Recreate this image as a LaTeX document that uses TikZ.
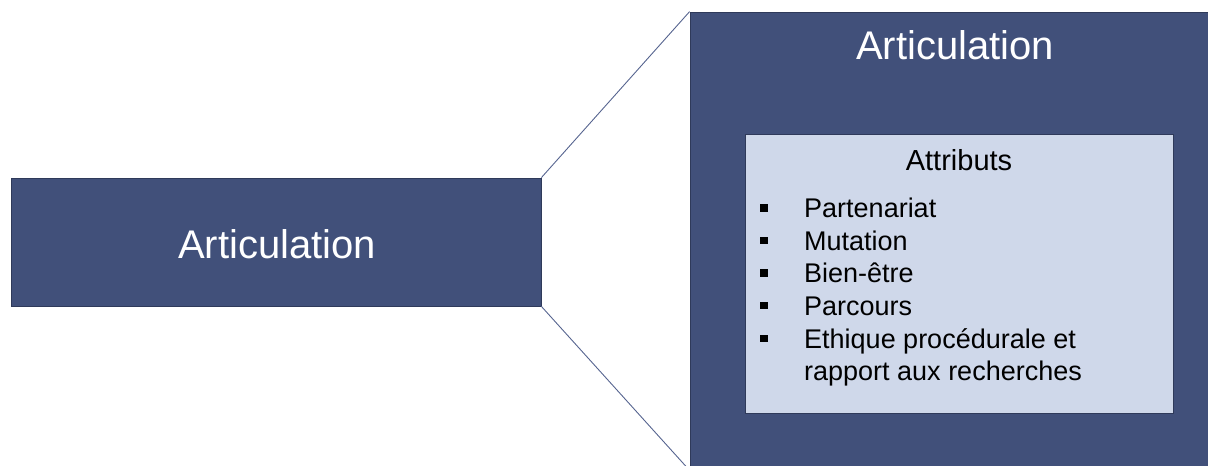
\documentclass[tikz,border=0pt]{standalone}
\usepackage{fontspec}
\setmainfont{Liberation Sans}
\definecolor{navy}{HTML}{41507A}
\definecolor{navyedge}{HTML}{2F3A5A}
\definecolor{paleblue}{HTML}{CFD8EA}
\definecolor{linkline}{HTML}{56648F}
\begin{document}
\begin{tikzpicture}[x=1pt,y=-1pt,
  darkbox/.style={draw=navyedge, line width=0.8pt, fill=navy, inner sep=0pt},
  palebox/.style={draw=navyedge, line width=0.8pt, fill=paleblue, inner sep=0pt},
  bigtitle/.style={text=white, font=\fontsize{40}{48}\selectfont, inner sep=0pt},
  listtext/.style={font=\fontsize{27}{32}\selectfont, inner sep=0pt, anchor=base west},
  bulletsq/.style={fill=black, inner sep=0pt, minimum size=7.5pt},
  link/.style={draw=linkline, line width=0.9pt}]
\useasboundingbox (0,0) rectangle (1208,466);
\clip (0,0) rectangle (1208,466);

% left box
\node[darkbox, minimum width=530pt, minimum height=128pt] (left) at (276,242) {};
\node[bigtitle, anchor=base] (lefttitle) at (277,258) {Articulation};

% enlarged box on the right
\node[darkbox, minimum width=538pt, minimum height=458pt] (right) at (959,241) {};
\node[bigtitle, anchor=base] (righttitle) at (955,59) {Articulation};

% connectors
\draw[link] (left.north east) -- (right.north west);
\draw[link] (left.south east) -- (right.south west);

% attributes panel
\node[palebox, minimum width=428pt, minimum height=279pt] (panel) at (959,273.5) {};
\node[font=\fontsize{29}{34}\selectfont, inner sep=0pt, anchor=base] (head) at (959,170) {Attributs};

\node[bulletsq] (b1) at (764,208) {};
\node[listtext] (t1) at (804,217.7) {Partenariat};
\node[bulletsq] (b2) at (764,240.4) {};
\node[listtext] (t2) at (804,250) {Mutation};
\node[bulletsq] (b3) at (764,273) {};
\node[listtext] (t3) at (804,282.7) {Bien-être};
\node[bulletsq] (b4) at (764,305.5) {};
\node[listtext] (t4) at (804,315) {Parcours};
\node[bulletsq] (b5) at (764,338.5) {};
\node[listtext] (t5) at (804,348.3) {Ethique procédurale et};
\node[listtext] (t6) at (804,380.7) {rapport aux recherches};
\end{tikzpicture}
\end{document}
